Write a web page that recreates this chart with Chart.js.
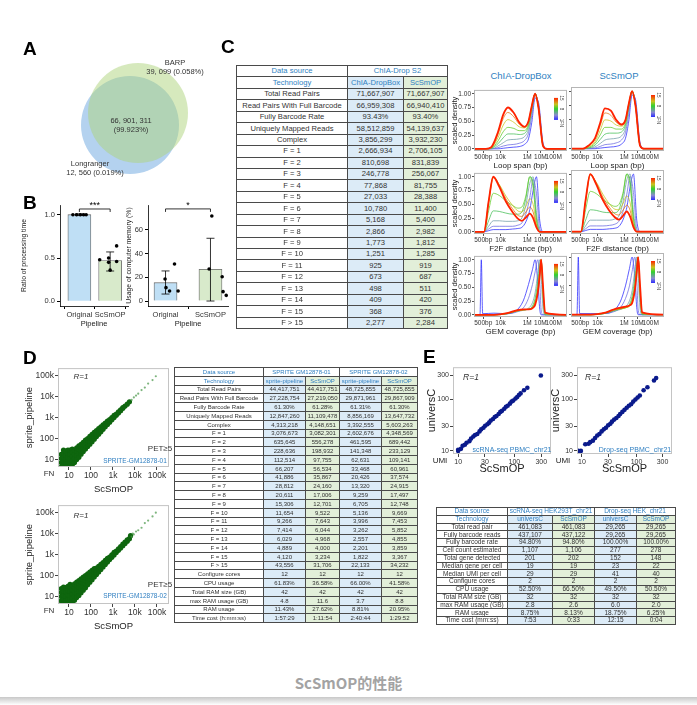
<!DOCTYPE html>
<html>
<head>
<meta charset="utf-8">
<title>ScSmOP的性能</title>
<script src="https://cdn.jsdelivr.net/npm/chart.js@4.4.1/dist/chart.umd.min.js"></script>
<style>
  body { margin: 0; background: #fff; }
  #page { position: relative; width: 697px; height: 705px; overflow: hidden; background: #fff;
          font-family: "Liberation Sans", Arial, sans-serif; color: #333; }
  #page canvas { position: absolute; }
  .t { position: absolute; white-space: nowrap; transform: translate(-50%, -50%); line-height: 1; }
  .panel { position: absolute; font-weight: bold; font-size: 19px; color: #000; line-height: 1; }
  table.grid { position: absolute; border-collapse: collapse; table-layout: fixed; color: #333; }
  table.grid td { border: 1px solid #4a4a4a; padding: 0; text-align: center; white-space: nowrap; overflow: hidden; line-height: 1; }
  table.grid td.hd { color: #2f7fc1; }
  #caption { position: absolute; left: 0; width: 697px; top: 675px; text-align: center; font-size: 15px; font-weight: bold;
             color: #a3a3a3; font-family: "Noto Sans CJK SC", "Noto Sans", sans-serif; line-height: 1; }
  #shadow { position: absolute; left: 0; top: 697px; width: 697px; height: 8px; background: linear-gradient(#c8c8c8, #fff); }
</style>
</head>
<body>
<div id="page"></div>
<script>
// ---------------- data ----------------
// A: venn
var vennNames = ['BARP', 'Longranger'];
var vennOnly = [39099, 12560];
var vennOnlyPct = ['0.058%', '0.019%'];
var vennShared = 66901311;
var vennSharedPct = '99.923%';

// B: bars + points
var pipelines = ['Original', 'ScSmOP'];
var timeMean = [1.0, 0.47];
var timeLow = [0.99, 0.35];
var timeHigh = [1.01, 0.57];
var timeDots = [[1.0, 1.0, 1.0, 1.0, 1.0], [0.64, 0.50, 0.48, 0.46, 0.45, 0.36]];
var memMean = [15.5, 26.8];
var memLow = [5.9, 0];
var memHigh = [25.4, 53];
var memDots = [[31.3, 18.6, 11.3, 8.5, 8.5], [71.8, 27.0, 20.5, 7.9, 4.8]];

// C: table
var cRows = ['Total Read Pairs', 'Read Pairs With Full Barcode', 'Fully Barcode Rate', 'Uniquely Mapped Reads', 'Complex',
  'F = 1', 'F = 2', 'F = 3', 'F = 4', 'F = 5', 'F = 6', 'F = 7', 'F = 8', 'F = 9', 'F = 10', 'F = 11', 'F = 12',
  'F = 13', 'F = 14', 'F = 15', 'F > 15'];
var cChia = ['71,667,907', '66,959,308', '93.43%', '58,512,859', '3,856,299', '2,666,934', '810,698', '246,778', '77,868',
  '27,033', '10,780', '5,168', '2,866', '1,773', '1,251', '925', '673', '498', '409', '368', '2,277'];
var cScs = ['71,667,907', '66,940,410', '93.40%', '54,139,637', '3,932,230', '2,706,105', '831,839', '256,067', '81,755',
  '28,388', '11,400', '5,400', '2,982', '1,812', '1,285', '919', '687', '511', '420', '376', '2,284'];

// C: density curves, log10(bp) grid, one row per FN level
var fnLevels = [1, 3, 5, 7, 9, 11, 13, 15];
var loopX = [2.0, 2.9, 3.3, 3.8, 4.2, 4.55, 5.0, 5.4, 5.8, 6.1, 6.35, 6.6, 6.85, 7.2, 7.5, 9.0];
var loopChia = [
  [0, 0, 0, 0, 0.01, 0.02, 0.03, 0.04, 0.08, 0.18, 0.48, 0.92, 0.85, 0.1, 0, 0],
  [0, 0, 0, 0.02, 0.05, 0.07, 0.08, 0.1, 0.15, 0.28, 0.6, 0.98, 0.8, 0.07, 0, 0],
  [0, 0, 0, 0.05, 0.11, 0.16, 0.17, 0.18, 0.22, 0.35, 0.67, 1.0, 0.78, 0.06, 0, 0],
  [0, 0, 0.01, 0.09, 0.2, 0.27, 0.27, 0.26, 0.28, 0.41, 0.72, 1.0, 0.77, 0.06, 0, 0],
  [0, 0, 0.01, 0.14, 0.31, 0.39, 0.37, 0.33, 0.33, 0.45, 0.75, 1.0, 0.76, 0.05, 0, 0],
  [0, 0, 0.02, 0.2, 0.43, 0.53, 0.48, 0.4, 0.38, 0.48, 0.77, 1.0, 0.75, 0.05, 0, 0],
  [0, 0, 0.02, 0.26, 0.55, 0.66, 0.58, 0.45, 0.4, 0.5, 0.78, 1.0, 0.75, 0.05, 0, 0],
  [0, 0, 0.03, 0.3, 0.62, 0.75, 0.65, 0.48, 0.4, 0.5, 0.78, 1.0, 0.75, 0.05, 0, 0]
];
var loopScs = [
  [0, 0, 0, 0, 0.01, 0.02, 0.03, 0.04, 0.08, 0.18, 0.48, 0.93, 0.86, 0.1, 0, 0],
  [0, 0, 0, 0.01, 0.04, 0.07, 0.08, 0.1, 0.15, 0.28, 0.6, 0.98, 0.8, 0.07, 0, 0],
  [0, 0, 0.01, 0.03, 0.09, 0.15, 0.17, 0.18, 0.22, 0.35, 0.67, 1.0, 0.78, 0.06, 0, 0],
  [0, 0, 0.01, 0.06, 0.16, 0.25, 0.27, 0.27, 0.29, 0.41, 0.72, 1.0, 0.77, 0.06, 0, 0],
  [0, 0, 0.02, 0.09, 0.24, 0.37, 0.37, 0.34, 0.34, 0.45, 0.75, 1.0, 0.76, 0.05, 0, 0],
  [0, 0, 0.03, 0.12, 0.32, 0.5, 0.48, 0.41, 0.39, 0.48, 0.77, 1.0, 0.75, 0.05, 0, 0],
  [0, 0, 0.04, 0.16, 0.4, 0.62, 0.58, 0.46, 0.41, 0.5, 0.78, 1.0, 0.75, 0.05, 0, 0],
  [0, 0, 0.05, 0.18, 0.45, 0.7, 0.66, 0.5, 0.42, 0.5, 0.78, 1.0, 0.75, 0.05, 0, 0]
];
var f2fX = [2.0, 2.75, 3.1, 3.45, 3.9, 4.4, 4.9, 5.3, 5.6, 5.9, 6.2, 6.45, 6.7, 6.95, 7.2, 9.0];
var f2fChia = [
  [0, 0, 0.02, 0.04, 0.04, 0.04, 0.05, 0.06, 0.08, 0.18, 0.4, 0.75, 1.0, 0.2, 0, 0],
  [0, 0, 0.05, 0.1, 0.1, 0.1, 0.1, 0.12, 0.16, 0.32, 0.62, 0.95, 0.7, 0.05, 0, 0],
  [0, 0, 0.1, 0.2, 0.2, 0.19, 0.19, 0.2, 0.25, 0.48, 0.88, 1.0, 0.35, 0.02, 0, 0],
  [0, 0, 0.2, 0.38, 0.37, 0.34, 0.32, 0.32, 0.36, 0.6, 1.0, 0.9, 0.25, 0, 0, 0],
  [0, 0, 0.38, 0.7, 0.66, 0.56, 0.48, 0.43, 0.45, 0.65, 1.0, 0.8, 0.2, 0, 0, 0],
  [0, 0, 0.52, 0.98, 0.86, 0.65, 0.48, 0.38, 0.36, 0.46, 0.6, 0.5, 0.14, 0, 0, 0],
  [0, 0, 0.54, 1.0, 0.85, 0.6, 0.42, 0.3, 0.28, 0.36, 0.45, 0.36, 0.1, 0, 0, 0],
  [0, 0, 0.55, 1.0, 0.82, 0.55, 0.36, 0.24, 0.2, 0.26, 0.33, 0.25, 0.08, 0, 0, 0]
];
var f2fScs = [
  [0, 0, 0.02, 0.04, 0.04, 0.04, 0.05, 0.06, 0.09, 0.2, 0.42, 0.78, 1.0, 0.2, 0, 0],
  [0, 0, 0.05, 0.1, 0.1, 0.1, 0.11, 0.13, 0.18, 0.34, 0.65, 0.96, 0.68, 0.05, 0, 0],
  [0, 0, 0.1, 0.2, 0.2, 0.2, 0.2, 0.22, 0.27, 0.5, 0.9, 1.0, 0.35, 0.02, 0, 0],
  [0, 0, 0.2, 0.38, 0.37, 0.34, 0.33, 0.33, 0.38, 0.62, 1.0, 0.88, 0.24, 0, 0, 0],
  [0, 0, 0.38, 0.7, 0.66, 0.56, 0.48, 0.44, 0.47, 0.66, 1.0, 0.8, 0.2, 0, 0, 0],
  [0, 0, 0.52, 0.98, 0.86, 0.65, 0.48, 0.39, 0.38, 0.48, 0.62, 0.5, 0.14, 0, 0, 0],
  [0, 0, 0.54, 1.0, 0.85, 0.6, 0.42, 0.31, 0.29, 0.37, 0.46, 0.37, 0.1, 0, 0, 0],
  [0, 0, 0.55, 1.0, 0.82, 0.55, 0.36, 0.25, 0.21, 0.27, 0.35, 0.26, 0.08, 0, 0, 0]
];
var gemX = [2.0, 2.45, 2.55, 2.65, 3.5, 4.5, 5.2, 5.7, 6.1, 6.4, 6.6, 6.8, 6.95, 7.05, 7.2, 7.35, 9.0];
var gemChia = [
  [0, 0, 1.0, 0.02, 0.03, 0.02, 0.08, 0.25, 0.55, 0.82, 1.0, 0.6, 0.1, 0, 0, 0, 0],
  [0, 0, 0, 0, 0.01, 0.02, 0.05, 0.12, 0.3, 0.55, 0.78, 1.0, 0.6, 0.1, 0, 0, 0],
  [0, 0, 0, 0, 0, 0.02, 0.06, 0.08, 0.12, 0.22, 0.4, 0.75, 1.0, 0.7, 0.1, 0, 0],
  [0, 0, 0, 0, 0, 0.02, 0.07, 0.09, 0.1, 0.16, 0.3, 0.6, 0.9, 1.0, 0.3, 0, 0],
  [0, 0, 0, 0, 0, 0.02, 0.07, 0.09, 0.1, 0.14, 0.25, 0.5, 0.82, 1.0, 0.35, 0.02, 0],
  [0, 0, 0, 0, 0, 0.03, 0.07, 0.09, 0.1, 0.13, 0.22, 0.45, 0.78, 1.0, 0.4, 0.02, 0],
  [0, 0, 0, 0, 0, 0.03, 0.07, 0.09, 0.1, 0.12, 0.2, 0.42, 0.75, 1.0, 0.45, 0.03, 0],
  [0, 0, 0, 0, 0, 0.03, 0.08, 0.1, 0.1, 0.12, 0.18, 0.4, 0.72, 1.0, 0.5, 0.04, 0]
];
var gemScs = [
  [0, 0, 1.0, 0.02, 0.02, 0.02, 0.07, 0.22, 0.5, 0.8, 1.0, 0.65, 0.12, 0, 0, 0, 0],
  [0, 0, 0, 0, 0.01, 0.02, 0.05, 0.12, 0.28, 0.5, 0.75, 1.0, 0.62, 0.1, 0, 0, 0],
  [0, 0, 0, 0, 0, 0.02, 0.06, 0.09, 0.14, 0.24, 0.42, 0.76, 1.0, 0.7, 0.1, 0, 0],
  [0, 0, 0, 0, 0, 0.02, 0.07, 0.1, 0.12, 0.18, 0.32, 0.62, 0.9, 1.0, 0.3, 0, 0],
  [0, 0, 0, 0, 0, 0.02, 0.08, 0.1, 0.12, 0.16, 0.27, 0.52, 0.84, 1.0, 0.35, 0.02, 0],
  [0, 0, 0, 0, 0, 0.03, 0.08, 0.1, 0.12, 0.15, 0.24, 0.47, 0.8, 1.0, 0.4, 0.02, 0],
  [0, 0, 0, 0, 0, 0.03, 0.08, 0.11, 0.13, 0.15, 0.22, 0.44, 0.76, 1.0, 0.45, 0.03, 0],
  [0, 0, 0, 0, 0, 0.03, 0.09, 0.12, 0.14, 0.16, 0.2, 0.42, 0.74, 1.0, 0.5, 0.04, 0]
];

// D: scatter, log10 (ScSmOP, sprite_pipeline)
var gm01 = [
  [0.65,0.65],[0.65,0.85],[0.65,1.05],[0.65,1.25],
  [0.75,0.7],[0.75,0.9],[0.75,1.1],[0.75,1.3],[0.75,1.45],
  [0.85,0.65],[0.85,0.8],[0.85,1.0],[0.85,1.2],[0.85,1.4],
  [0.95,0.7],[0.95,0.9],[0.95,1.1],[0.95,1.3],[0.95,1.45],
  [1.05,0.65],[1.05,0.85],[1.05,1.05],[1.05,1.25],[1.05,1.45],
  [1.15,0.75],[1.15,0.95],[1.15,1.15],[1.15,1.35],[1.15,1.5],
  [1.25,0.85],[1.25,1.05],[1.25,1.25],[1.25,1.45],
  [1.35,1.0],[1.35,1.2],[1.35,1.4],[1.35,1.55],
  [1.45,1.1],[1.45,1.3],[1.45,1.5],[1.45,1.65],
  [1.55,1.25],[1.55,1.42],[1.55,1.6],[1.55,1.72],
  [1.65,1.38],[1.65,1.55],[1.65,1.7],[1.65,1.82],
  [1.75,1.5],[1.75,1.65],[1.75,1.8],[1.75,1.92],
  [1.85,1.62],[1.85,1.76],[1.85,1.9],[1.85,2.0],
  [1.95,1.73],[1.95,1.87],[1.95,2.0],[1.95,2.1],
  [2.05,1.85],[2.05,1.98],[2.05,2.1],[2.05,2.2],
  [2.15,1.97],[2.15,2.1],[2.15,2.2],[2.15,2.29],
  [2.25,2.09],[2.25,2.2],[2.25,2.3],[2.25,2.38],
  [2.35,2.2],[2.35,2.31],[2.35,2.4],[2.35,2.47],
  [2.45,2.32],[2.45,2.42],[2.45,2.5],[2.45,2.56],
  [2.55,2.44],[2.55,2.52],[2.55,2.6],[2.55,2.65],
  [2.65,2.56],[2.65,2.63],[2.65,2.7],[2.65,2.74],
  [2.75,2.67],[2.75,2.73],[2.75,2.8],[2.75,2.83],
  [2.85,2.78],[2.85,2.84],[2.85,2.9],
  [2.95,2.89],[2.95,2.95],[2.95,3.0],
  [3.05,3.0],[3.05,3.05],[3.05,3.1],
  [3.15,3.11],[3.15,3.16],[3.25,3.22],[3.25,3.27],
  [3.35,3.33],[3.35,3.37],[3.45,3.44],[3.45,3.47],
  [3.55,3.55],[3.65,3.64],[3.75,3.75],[3.85,3.84],
  [3.95,3.96],[4.05,4.05],[4.15,4.14],[4.3,4.31],
  [4.45,4.43],[4.6,4.62],[4.8,4.79],[4.95,4.97]
];
var gm02 = [
  [0.65,0.62],[0.65,0.8],[0.65,1.0],[0.65,1.2],[0.65,1.38],
  [0.75,0.65],[0.75,0.85],[0.75,1.05],[0.75,1.25],[0.75,1.45],
  [0.85,0.62],[0.85,0.82],[0.85,1.02],[0.85,1.22],[0.85,1.42],
  [0.95,0.68],[0.95,0.88],[0.95,1.08],[0.95,1.28],[0.95,1.48],
  [1.05,0.65],[1.05,0.85],[1.05,1.05],[1.05,1.25],[1.05,1.45],[1.05,1.58],
  [1.15,0.72],[1.15,0.92],[1.15,1.12],[1.15,1.32],[1.15,1.52],
  [1.25,0.82],[1.25,1.02],[1.25,1.22],[1.25,1.42],[1.25,1.6],
  [1.35,0.95],[1.35,1.15],[1.35,1.35],[1.35,1.52],[1.35,1.68],
  [1.45,1.05],[1.45,1.25],[1.45,1.45],[1.45,1.62],[1.45,1.76],
  [1.55,1.18],[1.55,1.38],[1.55,1.55],[1.55,1.7],[1.55,1.84],
  [1.65,1.3],[1.65,1.48],[1.65,1.65],[1.65,1.8],[1.65,1.92],
  [1.75,1.42],[1.75,1.6],[1.75,1.76],[1.75,1.9],[1.75,2.0],
  [1.85,1.56],[1.85,1.72],[1.85,1.86],[1.85,1.98],[1.85,2.08],
  [1.95,1.68],[1.95,1.83],[1.95,1.96],[1.95,2.08],[1.95,2.16],
  [2.05,1.8],[2.05,1.94],[2.05,2.06],[2.05,2.17],[2.05,2.25],
  [2.15,1.93],[2.15,2.05],[2.15,2.16],[2.15,2.26],[2.15,2.33],
  [2.25,2.05],[2.25,2.16],[2.25,2.26],[2.25,2.35],
  [2.35,2.17],[2.35,2.27],[2.35,2.36],[2.35,2.44],
  [2.45,2.29],[2.45,2.38],[2.45,2.46],[2.45,2.53],
  [2.55,2.41],[2.55,2.49],[2.55,2.56],[2.55,2.62],
  [2.65,2.53],[2.65,2.6],[2.65,2.67],[2.65,2.72],
  [2.75,2.65],[2.75,2.71],[2.75,2.77],[2.75,2.82],
  [2.85,2.76],[2.85,2.82],[2.85,2.88],
  [2.95,2.87],[2.95,2.93],[2.95,2.99],
  [3.05,2.98],[3.05,3.04],[3.05,3.1],
  [3.15,3.1],[3.15,3.16],[3.25,3.2],[3.25,3.27],
  [3.35,3.31],[3.35,3.38],[3.45,3.42],[3.45,3.5],
  [3.55,3.53],[3.55,3.6],[3.65,3.64],[3.65,3.7],
  [3.75,3.76],[3.8,3.9],[3.85,3.86],[3.9,4.0],[3.95,3.96],[4.05,4.1],
  [4.15,4.16],[4.3,4.28],[4.45,4.5],[4.6,4.62],[4.8,4.82],[4.95,5.0]
];
var dSource = ['Data source', 'SPRITE GM12878-01', 'SPRITE GM12878-02'];
var dTech = ['sprite-pipeline', 'ScSmOP', 'sprite-pipeline', 'ScSmOP'];
var dRows = ['Total Read Pairs', 'Read Pairs With Full Barcode', 'Fully Barcode Rate', 'Uniquely Mapped Reads', 'Complex',
  'F = 1', 'F = 2', 'F = 3', 'F = 4', 'F = 5', 'F = 6', 'F = 7', 'F = 8', 'F = 9', 'F = 10', 'F = 11', 'F = 12',
  'F = 13', 'F = 14', 'F = 15', 'F > 15', 'Configure cores', 'CPU usage', 'Total RAM size (GB)', 'max RAM usage (GB)',
  'RAM usage', 'Time cost (h:mm:ss)'];
var dSprite01 = ['44,417,751', '27,228,754', '61.30%', '12,847,260', '4,313,218', '3,076,673', '635,645', '228,636', '112,514',
  '66,207', '41,886', '28,812', '20,611', '15,306', '11,654', '9,266', '7,414', '6,029', '4,889', '4,120', '43,556',
  '12', '61.83%', '42', '4.8', '11.43%', '1:57:29'];
var dScs01 = ['44,417,751', '27,219,050', '61.28%', '11,109,478', '4,148,651', '3,082,301', '556,278', '198,932', '97,755',
  '56,534', '35,867', '24,160', '17,006', '12,701', '9,522', '7,643', '6,044', '4,968', '4,000', '3,234', '31,706',
  '12', '36.58%', '42', '11.6', '27.62%', '1:11:54'];
var dSprite02 = ['48,725,855', '29,871,961', '61.31%', '8,856,169', '3,392,555', '2,602,676', '461,595', '141,348', '62,631',
  '33,468', '20,426', '13,320', '9,259', '6,705', '5,136', '3,996', '3,262', '2,557', '2,201', '1,822', '22,133',
  '12', '66.00%', '42', '3.7', '8.81%', '2:40:44'];
var dScs02 = ['48,725,855', '29,867,909', '61.30%', '13,647,732', '5,603,263', '4,348,569', '689,442', '233,129', '109,141',
  '60,961', '37,574', '24,915', '17,497', '12,748', '9,669', '7,453', '5,852', '4,855', '3,859', '3,367', '34,232',
  '12', '41.58%', '42', '8.8', '20.95%', '1:29:52'];

// E: UMI scatter, log10 (ScSmOP, universC)
var pbmc10x = [[1.0,1.0],[1.0,1.02],[1.05,1.04],[1.08,1.1],[1.12,1.12],[1.15,1.16],[1.2,1.19],[1.23,1.24],[1.27,1.28],
  [1.3,1.31],[1.34,1.33],[1.38,1.38],[1.41,1.42],[1.45,1.45],[1.48,1.49],[1.52,1.52],[1.55,1.55],[1.58,1.59],
  [1.62,1.62],[1.65,1.66],[1.68,1.68],[1.72,1.72],[1.75,1.76],[1.78,1.78],[1.82,1.82],[1.85,1.86],[1.88,1.88],
  [1.92,1.92],[1.95,1.96],[1.98,1.98],[2.02,2.02],[2.05,2.05],[2.08,2.09],[2.11,2.12],[2.17,2.18],[2.23,2.23],[2.47,2.47]];
var pbmcDrop = [[0.93,1.0],[0.98,1.0],[1.06,1.13],[1.12,1.14],[1.15,1.17],[1.2,1.2],[1.24,1.25],[1.28,1.3],[1.32,1.33],
  [1.36,1.38],[1.4,1.42],[1.44,1.45],[1.48,1.5],[1.52,1.53],[1.55,1.57],[1.59,1.61],[1.63,1.64],[1.67,1.68],
  [1.7,1.72],[1.74,1.76],[1.78,1.8],[1.82,1.84],[1.86,1.88],[1.9,1.91],[1.94,1.96],[1.98,2.0],[2.02,2.04],
  [2.06,2.08],[2.13,2.18],[2.2,2.24],[2.32,2.37],[2.36,2.42]];
var eSource = ['Data source', 'scRNA-seq HEK293T_chr21', 'Drop-seq HEK_chr21'];
var eTech = ['universC', 'ScSmOP', 'universC', 'ScSmOP'];
var eRows = ['Total read pair', 'Fully barcode reads', 'Fully barcode rate', 'Cell count estimated', 'Total gene detected',
  'Median gene per cell', 'Median UMI per cell', 'Configure cores', 'CPU usage', 'Total RAM size (GB)',
  'max RAM usage (GB)', 'RAM usage', 'Time cost (mm:ss)'];
var eUniv1 = ['461,083', '437,107', '94.80%', '1,107', '201', '19', '29', '2', '52.50%', '32', '2.8', '8.75%', '7:53'];
var eScs1 = ['461,083', '437,122', '94.80%', '1,106', '202', '19', '29', '2', '66.50%', '32', '2.6', '8.13%', '0:33'];
var eUniv2 = ['29,265', '29,265', '100.00%', '277', '152', '23', '41', '2', '49.50%', '32', '6.0', '18.75%', '12:15'];
var eScs2 = ['29,265', '29,265', '100.00%', '278', '148', '22', '40', '2', '50.50%', '32', '2.0', '6.25%', '0:04'];

// ---------------- layout / style ----------------
var blueCell = '#dcebf7', greenCell = '#e2efd9', headBlue = '#2f7fc1';
var jitterTime = [[-0.21, -0.09, 0.03, 0.14, 0.22], [0.21, -0.05, -0.34, 0.21, -0.05, 0.0]];
var jitterMem = [[0.2, -0.01, 0.01, 0.09, 0.28], [0.03, -0.03, 0.26, 0.28, 0.35]];
var fnStops = [[1, [43, 43, 255]], [4, [138, 138, 208]], [8, [47, 209, 47]], [11, [201, 194, 30]], [15, [255, 34, 0]]];
var densTicks = [500, 1e4, 1e6, 1e7, 1e8];
var densTickText = ['500bp', '10k', '1M', '10M', '100M'];

Chart.defaults.font.family = '"Liberation Sans", Arial, sans-serif';
Chart.defaults.color = '#333';
Chart.defaults.animation = false;
Chart.defaults.responsive = false;
Chart.defaults.plugins.legend.display = false;
Chart.defaults.plugins.tooltip.enabled = false;

var page = document.getElementById('page');

function canvasAt(x, y, w, h) {
  var c = document.createElement('canvas');
  c.width = w; c.height = h;
  c.style.left = x + 'px'; c.style.top = y + 'px';
  c.style.width = w + 'px'; c.style.height = h + 'px';
  page.appendChild(c);
  return c.getContext('2d');
}

function text(s, x, y, css) {
  var d = document.createElement('div');
  d.className = 't';
  d.textContent = s;
  d.style.left = x + 'px'; d.style.top = y + 'px';
  if (css) d.style.cssText += css;
  page.appendChild(d);
}

function panelLetter(s, x, y) {
  var d = document.createElement('div');
  d.className = 'panel'; d.textContent = s;
  d.style.left = x + 'px'; d.style.top = y + 'px';
  page.appendChild(d);
}

function fnColor(f, a) {
  for (var i = 0; i < fnStops.length - 1; i++) {
    var s0 = fnStops[i], s1 = fnStops[i + 1];
    if (f <= s1[0]) {
      var t = (f - s0[0]) / (s1[0] - s0[0]);
      var c = s0[1].map(function (v, k) { return Math.round(v + (s1[1][k] - v) * t); });
      return 'rgba(' + c.join(',') + ',' + a + ')';
    }
  }
}

function kfmt(v) { return v >= 1000 ? (v / 1000) + 'k' : String(v); }

// plot frame (ggplot-like panel border)
Chart.register({
  id: 'frame',
  afterDraw: function (chart, args, o) {
    if (!o.color) return;
    var a = chart.chartArea, c = chart.ctx;
    c.save(); c.strokeStyle = o.color; c.lineWidth = 1;
    c.strokeRect(a.left + 0.5, a.top + 0.5, a.right - a.left - 1, a.bottom - a.top - 1);
    c.restore();
  }
});

// FN colour bar inside density panels
Chart.register({
  id: 'fnbar',
  afterDraw: function (chart, args, o) {
    if (!o.show) return;
    var a = chart.chartArea, c = chart.ctx;
    var x = a.right - 13, y0 = a.top + 8, h = 22, w = 4;
    var g = c.createLinearGradient(0, y0 + h, 0, y0);
    fnStops.forEach(function (s) { g.addColorStop((s[0] - 1) / 14, 'rgb(' + s[1].join(',') + ')'); });
    c.save();
    c.fillStyle = g; c.fillRect(x, y0, w, h);
    c.fillStyle = '#333'; c.font = '4.5px "Liberation Sans"'; c.textAlign = 'center'; c.textBaseline = 'middle';
    [[15, '15'], [8, '8'], [1, '1'], [-1.5, 'FN']].forEach(function (p) {
      var yy = p[0] < 0 ? y0 + h + 4 : y0 + h - (p[0] - 1) / 14 * h;
      c.save(); c.translate(x + w + 3, yy); c.rotate(Math.PI / 2); c.fillText(p[1], 0, 0); c.restore();
    });
    c.restore();
  }
});

// error bars + significance bracket for panel B
Chart.register({
  id: 'barExtras',
  beforeDatasetDraw: function (chart, args, o) {
    if (!o.lo || args.index !== 0) return;
    var xs = chart.scales.x, ys = chart.scales.y, c = chart.ctx;
    c.save(); c.strokeStyle = '#000'; c.lineWidth = 0.8;
    o.lo.forEach(function (lo, i) {
      var px = xs.getPixelForValue(i), y0 = ys.getPixelForValue(lo), y1 = ys.getPixelForValue(o.hi[i]);
      c.beginPath();
      c.moveTo(px, y0); c.lineTo(px, y1);
      c.moveTo(px - 4, y0); c.lineTo(px + 4, y0);
      c.moveTo(px - 4, y1); c.lineTo(px + 4, y1);
      c.stroke();
    });
    var xa = xs.getPixelForValue(0), xb = xs.getPixelForValue(1), yb = ys.getPixelForValue(o.sigY);
    c.beginPath(); c.moveTo(xa, yb + 3); c.lineTo(xa, yb); c.lineTo(xb, yb); c.lineTo(xb, yb + 3); c.stroke();
    c.fillStyle = '#000'; c.font = '9px "Liberation Sans"'; c.textAlign = 'center'; c.textBaseline = 'bottom';
    c.fillText(o.sig, (xa + xb) / 2, yb + 1);
    c.restore();
  }
});

// ---------------- A: venn ----------------
function spaced(n) { return n.toLocaleString('en-US').replace(/,/g, ', '); }
var vennGeom = { green: { x: 78, y: 77, r: 50 }, blue: { x: 70, y: 65, r: 49 } };
new Chart(canvasAt(60, 50, 150, 140), {
  type: 'bubble',
  data: {
    datasets: [
      { label: vennNames[0], data: [vennGeom.green], backgroundColor: 'rgba(173,212,123,0.5)', borderWidth: 0, clip: false },
      { label: vennNames[1], data: [vennGeom.blue], backgroundColor: '#b4d2ef', borderWidth: 0, clip: false }
    ]
  },
  options: {
    layout: { padding: 0, autoPadding: false },
    scales: { x: { display: false, min: 0, max: 150 }, y: { display: false, min: 0, max: 140 } }
  }
});
var vennFont = 'font-size:7.5px;color:#333;';
text(vennNames[0], 175, 63, vennFont);
text(spaced(vennOnly[0]) + ' (' + vennOnlyPct[0] + ')', 175, 72, vennFont);
text(spaced(vennShared), 131, 121, vennFont);
text('(' + vennSharedPct + ')', 131, 130, vennFont);
text(vennNames[1], 90, 164, vennFont);
text(spaced(vennOnly[1]) + ' (' + vennOnlyPct[1] + ')', 95, 173, vennFont);

// ---------------- B: bars ----------------
function barPanel(ctx, means, dots, jitter, lo, hi, opt) {
  var pts = [];
  dots.forEach(function (g, i) {
    g.forEach(function (v, j) { pts.push({ x: i + jitter[i][j], y: v }); });
  });
  new Chart(ctx, {
    type: 'bar',
    data: {
      datasets: [
        { type: 'scatter', data: pts, backgroundColor: '#000', borderWidth: 0, pointRadius: 1.8 },
        { data: means.map(function (m, i) { return { x: i, y: m }; }), backgroundColor: ['#bfdff5', '#d8eacb'],
          borderColor: '#666', borderWidth: 0.8, barThickness: 23 }
      ]
    },
    options: {
      layout: { padding: { top: 10, right: 2 } },
      scales: {
        x: {
          type: 'linear', min: opt.xmin, max: opt.xmax, offset: false,
          afterBuildTicks: function (ax) { ax.ticks = [{ value: 0 }, { value: 1 }]; },
          ticks: { callback: function (v) { return pipelines[v]; }, font: { size: 7.5 }, color: '#333', padding: 1, autoSkip: false, maxRotation: 0 },
          grid: { drawOnChartArea: false, tickLength: 3, color: '#000' },
          border: { color: '#000', width: 0.8 },
          title: { display: true, text: 'Pipeline', font: { size: 7.5 }, padding: 0, color: '#222' },
          afterFit: function (ax) { ax.height = 22; }
        },
        y: {
          min: opt.ymin, max: opt.ymax,
          afterBuildTicks: function (ax) { ax.ticks = opt.ticks.map(function (v) { return { value: v }; }); },
          ticks: { callback: opt.fmt, font: { size: 7.5 }, color: '#333', padding: 2 },
          grid: { drawOnChartArea: false, tickLength: 3, color: '#000' },
          border: { color: '#000', width: 0.8 },
          title: { display: true, text: opt.title, font: { size: 6.8 }, padding: 0, color: '#222' },
          afterFit: function (ax) { ax.width = opt.yw; }
        }
      },
      plugins: { barExtras: { lo: lo, hi: hi, sigY: opt.sigY, sig: opt.sig } }
    }
  });
}
barPanel(canvasAt(20, 195, 112, 133), timeMean, timeDots, jitterTime, timeLow, timeHigh,
  { xmin: -0.63, xmax: 1.58, ymin: -0.054, ymax: 1.112, ticks: [0, 0.5, 1], fmt: function (v) { return v.toFixed(1); },
    title: 'Ratio of processing time', yw: 40, sigY: 1.066, sig: '***' });
barPanel(canvasAt(125, 195, 107, 133), memMean, memDots, jitterMem, memLow, memHigh,
  { xmin: -0.39, xmax: 1.39, ymin: -4.2, ymax: 81.1, ticks: [0, 20, 40, 60], fmt: function (v) { return v; },
    title: 'Usage of computer memory (%)', yw: 23, sigY: 77.8, sig: '*' });

// ---------------- C: table + density ----------------
function makeTable(spec) {
  var t = document.createElement('table');
  t.className = 'grid';
  t.style.left = spec.left + 'px'; t.style.top = spec.top + 'px'; t.style.fontSize = spec.font + 'px';
  t.style.width = spec.widths.reduce(function (a, b) { return a + b; }, 0) + 'px';
  var tr = '<tr style="height:' + spec.rowH + 'px">';
  var html = '<colgroup>' + spec.widths.map(function (w) { return '<col style="width:' + w + 'px">'; }).join('') + '</colgroup>';
  html += tr + '<td class="hd">' + spec.source[0] + '</td>' +
    spec.source.slice(1).map(function (s) { return '<td class="hd" colspan="2">' + s + '</td>'; }).join('') + '</tr>';
  html += tr + '<td class="hd">Technology</td>' +
    spec.tech.map(function (s, i) { return '<td class="hd" style="background:' + spec.bg[i] + '">' + s + '</td>'; }).join('') + '</tr>';
  spec.rows.forEach(function (r, j) {
    html += tr + '<td>' + r + '</td>' +
      spec.cols.map(function (col, i) { return '<td style="background:' + spec.bg[i] + '">' + col[j] + '</td>'; }).join('') + '</tr>';
  });
  t.innerHTML = html;
  page.appendChild(t);
}
makeTable({ left: 236, top: 65, font: 7.6, rowH: 11.45, widths: [111, 56, 44],
  source: ['Data source', 'ChIA-Drop S2'], tech: ['ChIA-DropBox', 'ScSmOP'], bg: [blueCell, greenCell],
  rows: cRows, cols: [cChia, cScs] });

function density(ctx, xs, curves, left, xTitle) {
  var sets = [];
  for (var i = curves.length - 1; i >= 0; i--) {
    var f = fnLevels[i];
    sets.push({
      data: xs.map(function (lx, j) { return { x: Math.pow(10, lx), y: curves[i][j] }; }),
      borderColor: fnColor(f, f === 15 ? 1 : 0.85), borderWidth: f === 15 ? 1.8 : 0.9,
      pointRadius: 0, cubicInterpolationMode: 'monotone', fill: false
    });
  }
  new Chart(ctx, {
    type: 'line',
    data: { datasets: sets },
    options: {
      layout: { padding: { top: 2, right: 2 } },
      scales: {
        x: {
          type: 'logarithmic', min: 100, max: 1e9,
          afterBuildTicks: function (ax) { ax.ticks = densTicks.map(function (v) { return { value: v }; }); },
          ticks: { callback: function (v) { return densTickText[densTicks.indexOf(v)]; }, font: { size: 6.5 }, color: '#333',
                   padding: 0, autoSkip: false, maxRotation: 0 },
          grid: { drawOnChartArea: false, tickLength: 2, color: '#555' },
          border: { display: false },
          title: { display: true, text: xTitle, font: { size: 8 }, padding: 0, color: '#222' },
          afterFit: function (ax) { ax.height = 20; }
        },
        y: {
          min: -0.04, max: 1.07,
          afterBuildTicks: function (ax) { ax.ticks = [0, 0.25, 0.5, 0.75, 1].map(function (v) { return { value: v }; }); },
          ticks: { display: left, callback: function (v) { return v.toFixed(2); }, font: { size: 6.5 }, color: '#333', padding: 1 },
          grid: { drawOnChartArea: false, tickLength: 2, color: '#555' },
          border: { display: false },
          title: { display: left, text: 'scaled density', font: { size: 7.5 }, padding: 0, color: '#222' },
          afterFit: function (ax) { ax.width = left ? 24 : 4; }
        }
      },
      plugins: { frame: { color: '#b5b5b5' }, fnbar: { show: true } }
    }
  });
}
text('ChIA-DropBox', 521, 76, 'font-size:9.5px;color:' + headBlue + ';');
text('ScSmOP', 619, 76, 'font-size:9.5px;color:' + headBlue + ';');
density(canvasAt(450, 85, 119, 86), loopX, loopChia, true, 'Loop span (bp)');
density(canvasAt(567, 85, 99, 86), loopX, loopScs, false, 'Loop span (bp)');
density(canvasAt(450, 168, 119, 86), f2fX, f2fChia, true, 'F2F distance (bp)');
density(canvasAt(567, 168, 99, 86), f2fX, f2fScs, false, 'F2F distance (bp)');
density(canvasAt(450, 251, 119, 86), gemX, gemChia, true, 'GEM coverage (bp)');
density(canvasAt(567, 251, 99, 86), gemX, gemScs, false, 'GEM coverage (bp)');

// ---------------- D / E: log scatter ----------------
function logScatter(ctx, pts, o) {
  new Chart(ctx, {
    type: 'scatter',
    data: { datasets: [{ data: pts.map(function (p) { return { x: Math.pow(10, p[0]), y: Math.pow(10, p[1]) }; }),
      backgroundColor: function (c) { return c.raw && c.raw.x > o.tailFrom ? o.tailColor : o.color; },
      pointRadius: function (c) { return c.raw && c.raw.x > o.tailFrom ? o.tailR : o.r; },
      borderWidth: 0, pointStyle: o.style }] },
    options: {
      layout: { padding: { top: 5, right: o.pr } },
      scales: {
        x: {
          type: 'logarithmic', min: o.xmin, max: o.xmax,
          afterBuildTicks: function (ax) { ax.ticks = o.ticks.map(function (v) { return { value: v }; }); },
          ticks: { callback: kfmt, font: { size: o.tick }, color: '#333', padding: 1, autoSkip: false, maxRotation: 0 },
          grid: { drawOnChartArea: false, tickLength: 3, color: '#444' },
          border: { display: false },
          title: { display: true, text: 'ScSmOP', font: { size: o.title }, padding: 0, color: '#222' },
          afterFit: function (ax) { ax.height = o.xh; }
        },
        y: {
          type: 'logarithmic', min: o.ymin, max: o.ymax,
          afterBuildTicks: function (ax) { ax.ticks = o.ticks.map(function (v) { return { value: v }; }); },
          ticks: { callback: kfmt, font: { size: o.tick }, color: '#333', padding: 1 },
          grid: { drawOnChartArea: false, tickLength: 3, color: '#444' },
          border: { display: false },
          title: { display: true, text: o.ytitle, font: { size: o.title }, padding: 0, color: '#222' },
          afterFit: function (ax) { ax.width = o.yw; }
        }
      },
      plugins: { frame: { color: '#c4c4c4' } }
    }
  });
}
var dOpt = { color: '#0e660e', r: 2.6, tailFrom: 7000, tailColor: 'rgba(70,150,70,0.7)', tailR: 1.1, style: 'circle', pr: 5,
  xmin: 3.16, xmax: 354800, ymin: 4.37, ymax: 229000,
  ticks: [10, 100, 1000, 10000, 100000], tick: 8.5, title: 9.5, xh: 28, yw: 34, ytitle: 'sprite_pipeline' };
logScatter(canvasAt(24, 362, 150, 133), gm01, dOpt);
logScatter(canvasAt(24, 499, 150, 133), gm02, dOpt);
var dNote = 'font-size:8px;color:#333;';
text('R=1', 81, 377, 'font-size:8px;font-style:italic;color:#333;');
text('PET≥5', 160, 449, dNote);
text('SPRITE-GM12878-01', 135, 461, 'font-size:6.5px;color:' + headBlue + ';');
text('FN', 49, 474, dNote);
text('R=1', 81, 516, 'font-size:8px;font-style:italic;color:#333;');
text('PET≥5', 160, 585, dNote);
text('SPRITE-GM12878-02', 135, 596, 'font-size:6.5px;color:' + headBlue + ';');
text('FN', 49, 611, dNote);

makeTable({ left: 174, top: 367, font: 6, rowH: 8.8, widths: [89, 42, 34, 42, 36],
  source: dSource, tech: dTech, bg: [blueCell, greenCell, blueCell, greenCell],
  rows: dRows, cols: [dSprite01, dScs01, dSprite02, dScs02] });

var eOpt = { color: '#0a1a8c', r: 2.3, tailFrom: 1e9, tailColor: '#0a1a8c', tailR: 2.3, style: 'circle', pr: 3,
  xmin: 8.1, xmax: 447, ymin: 8.7, ymax: 427,
  ticks: [10, 30, 100, 300], tick: 7, title: 11, xh: 22, yw: 28, ytitle: 'universC' };
logScatter(canvasAt(425, 362, 130, 114), pbmc10x, eOpt);
logScatter(canvasAt(549, 362, 127, 114), pbmcDrop, eOpt);
text('R=1', 471, 377, 'font-size:8.5px;font-style:italic;color:#333;');
text('R=1', 593, 377, 'font-size:8.5px;font-style:italic;color:#333;');
text('scRNA-seq PBMC_chr21', 512, 449, 'font-size:7px;color:' + headBlue + ';');
text('Drop-seq PBMC_chr21', 635, 449, 'font-size:7px;color:' + headBlue + ';');
text('UMI', 440, 461, 'font-size:8px;color:#222;');
text('UMI', 563, 461, 'font-size:8px;color:#222;');

makeTable({ left: 436, top: 507, font: 6.5, rowH: 7.8, widths: [71, 45, 42, 42, 39],
  source: eSource, tech: eTech, bg: [blueCell, greenCell, blueCell, greenCell],
  rows: eRows, cols: [eUniv1, eScs1, eUniv2, eScs2] });

// ---------------- letters + caption ----------------
panelLetter('A', 23, 39);
panelLetter('B', 23, 193);
panelLetter('C', 221, 37);
panelLetter('D', 23, 348);
panelLetter('E', 423, 347);
var cap = document.createElement('div');
cap.id = 'caption'; cap.textContent = 'ScSmOP的性能';
page.appendChild(cap);
var sh = document.createElement('div');
sh.id = 'shadow';
page.appendChild(sh);
</script>
</body>
</html>
